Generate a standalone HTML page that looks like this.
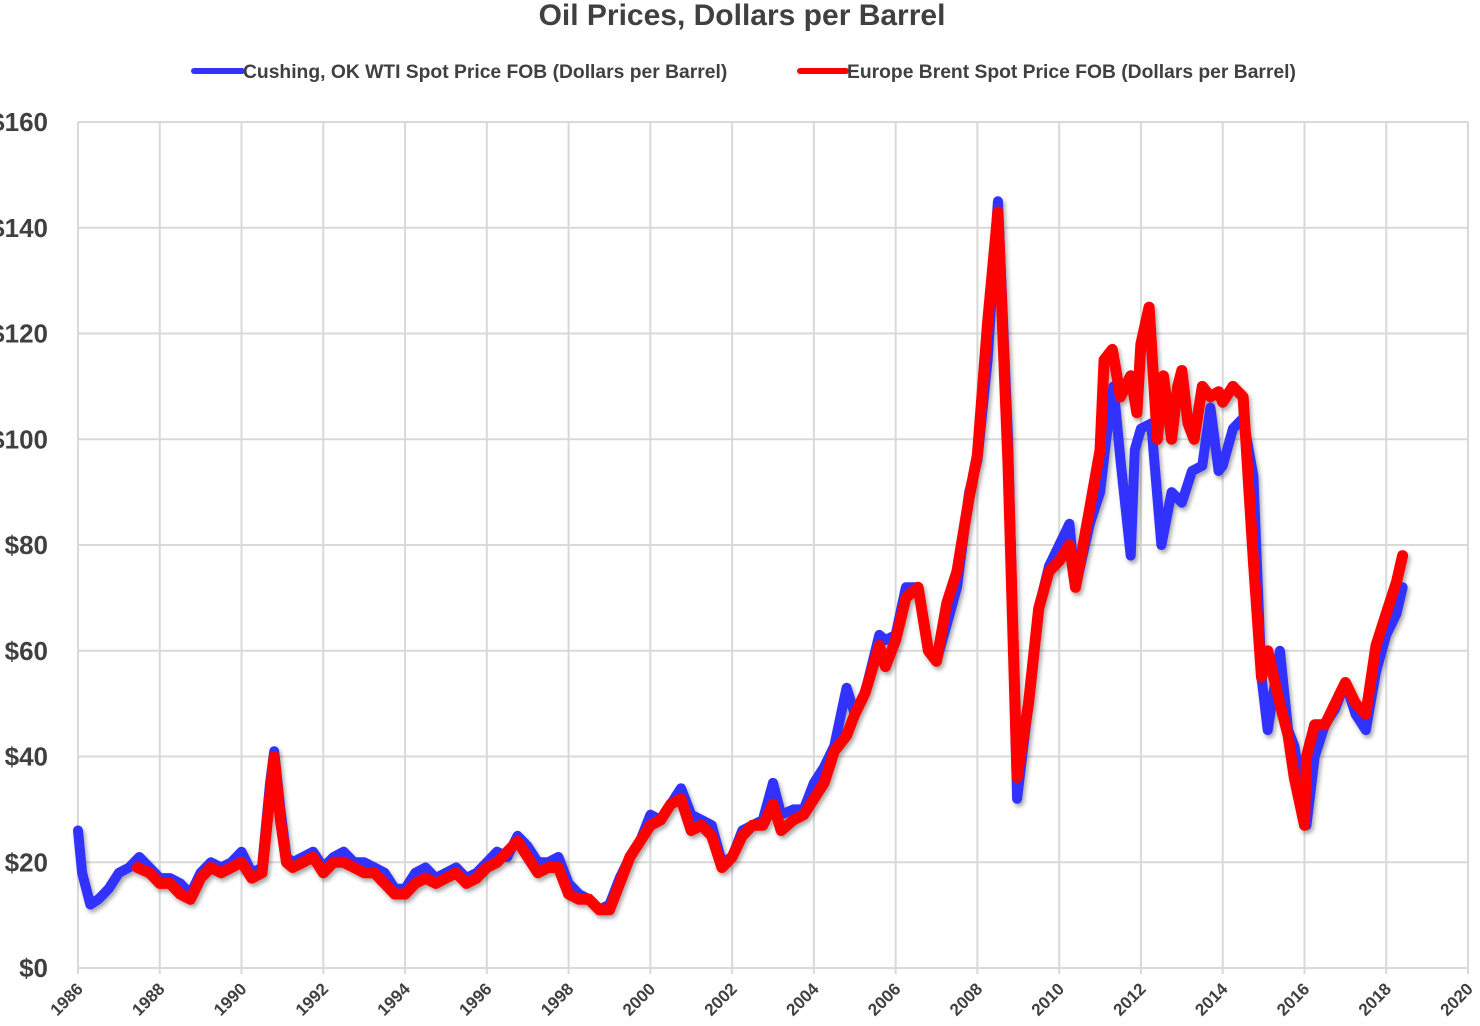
<!DOCTYPE html>
<html><head><meta charset="utf-8"><style>
html,body{margin:0;padding:0;background:#fff;width:1480px;height:1026px;overflow:hidden}
svg{display:block}
text{font-family:"Liberation Sans",sans-serif;fill:#404040;font-weight:bold}
</style></head><body>
<svg id="chart" width="1480" height="1026">
<defs><filter id="sh" x="-5%" y="-5%" width="110%" height="110%"><feDropShadow dx="2" dy="3" stdDeviation="2" flood-color="#000" flood-opacity="0.35"/></filter></defs>
<text x="742" y="25" text-anchor="middle" font-size="30">Oil Prices, Dollars per Barrel</text>
<g>
<g><line x1="194" y1="71" x2="242" y2="71" stroke="#3333ff" stroke-width="6" stroke-linecap="round"/><text x="243" y="78" font-size="19.3">Cushing, OK WTI Spot Price FOB (Dollars per Barrel)</text></g>
<g><line x1="800" y1="71" x2="846" y2="71" stroke="#ff0000" stroke-width="6" stroke-linecap="round"/><text x="847" y="78" font-size="19.3">Europe Brent Spot Price FOB (Dollars per Barrel)</text></g>
</g>
<g id="grid"></g>
<g id="ylab"></g>
<g id="xlab"></g>
<g id="series" filter="url(#sh)"></g>
</svg>
<script>
const yTicks=[0,20,40,60,80,100,120,140,160];
const yTickLabels=["$0","$20","$40","$60","$80","$100","$120","$140","$160"];
const xTicks=[1986,1988,1990,1992,1994,1996,1998,2000,2002,2004,2006,2008,2010,2012,2014,2016,2018,2020];
const wtiYears=[1986,1986.1,1986.3,1986.5,1986.75,1987,1987.25,1987.5,1987.75,1988,1988.25,1988.5,1988.75,1989,1989.25,1989.5,1989.75,1990,1990.25,1990.5,1990.7,1990.8,1990.95,1991.1,1991.25,1991.5,1991.75,1992,1992.25,1992.5,1992.75,1993,1993.25,1993.5,1993.75,1994,1994.25,1994.5,1994.75,1995,1995.25,1995.5,1995.75,1996,1996.25,1996.5,1996.75,1997,1997.25,1997.5,1997.75,1998,1998.25,1998.5,1998.75,1999,1999.25,1999.5,1999.75,2000,2000.25,2000.5,2000.75,2001,2001.25,2001.5,2001.75,2002,2002.25,2002.5,2002.75,2003,2003.2,2003.5,2003.75,2004,2004.25,2004.5,2004.8,2005,2005.25,2005.6,2005.75,2006,2006.25,2006.55,2006.8,2007,2007.25,2007.5,2007.8,2008,2008.25,2008.5,2008.75,2008.97,2009.25,2009.5,2009.75,2010,2010.25,2010.4,2010.75,2011,2011.15,2011.33,2011.5,2011.75,2011.85,2012,2012.25,2012.5,2012.75,2013,2013.25,2013.5,2013.7,2013.9,2014,2014.25,2014.5,2014.75,2014.95,2015.1,2015.4,2015.6,2015.75,2016,2016.05,2016.25,2016.5,2016.75,2017,2017.25,2017.5,2017.75,2018,2018.25,2018.4];
const wtiPrices=[26,18,12,13,15,18,19,21,19,17,17,16,14,18,20,19,20,22,18,19,35,41,30,21,20,21,22,19,21,22,20,20,19,18,15,15,18,19,17,18,19,17,18,20,22,21,25,23,20,20,21,16,14,13,11,12,17,21,24,29,28,31,34,29,28,27,20,21,26,27,28,35,29,30,30,35,38,42,53,48,52,63,62,63,72,72,60,58,65,72,90,96,115,145,100,32,50,68,76,80,84,72,84,90,100,110,96,78,98,102,103,80,90,88,94,95,106,94,95,102,104,93,55,45,60,45,42,30,27,40,46,49,54,48,45,56,63,67,72];
const brentYears=[1987.45,1987.75,1988,1988.25,1988.5,1988.75,1989,1989.25,1989.5,1989.75,1990,1990.25,1990.5,1990.7,1990.8,1990.95,1991.1,1991.25,1991.5,1991.75,1992,1992.25,1992.5,1992.75,1993,1993.25,1993.5,1993.75,1994,1994.25,1994.5,1994.75,1995,1995.25,1995.5,1995.75,1996,1996.25,1996.5,1996.75,1997,1997.25,1997.5,1997.75,1998,1998.25,1998.5,1998.75,1999,1999.25,1999.5,1999.75,2000,2000.25,2000.5,2000.75,2001,2001.25,2001.5,2001.75,2002,2002.25,2002.5,2002.75,2003,2003.2,2003.5,2003.75,2004,2004.25,2004.5,2004.8,2005,2005.25,2005.6,2005.75,2006,2006.25,2006.55,2006.8,2007,2007.25,2007.5,2007.8,2008,2008.25,2008.5,2008.75,2008.97,2009.25,2009.5,2009.75,2010,2010.25,2010.4,2010.75,2011,2011.1,2011.3,2011.5,2011.75,2011.9,2012,2012.2,2012.4,2012.55,2012.75,2012.9,2013,2013.15,2013.3,2013.5,2013.7,2013.9,2014,2014.25,2014.5,2014.75,2014.95,2015.1,2015.4,2015.6,2015.75,2016,2016.05,2016.25,2016.5,2016.75,2017,2017.25,2017.5,2017.75,2018,2018.25,2018.4];
const brentPrices=[19,18,16,16,14,13,17,19,18,19,20,17,18,33,40,28,20,19,20,21,18,20,20,19,18,18,16,14,14,16,17,16,17,18,16,17,19,20,22,24,21,18,19,19,14,13,13,11,11,16,21,24,27,28,31,32,26,27,25,19,21,25,27,27,31,26,28,29,32,35,41,44,48,52,61,57,62,70,72,60,58,69,75,89,97,122,143,95,36,50,68,75,77,80,72,87,98,115,117,108,112,105,118,125,100,112,100,110,113,103,100,110,108,109,107,110,108,77,55,60,50,44,36,27,40,46,46,50,54,50,48,61,67,73,78];
const X0=78,X1=1468,Y0=968,Y1=122;
const xs=y=>X0+(y-1986)/(2020-1986)*(X1-X0);
const ys=v=>Y0-v/160*(Y0-Y1);
const NS="http://www.w3.org/2000/svg";
const grid=document.getElementById('grid'),ylab=document.getElementById('ylab'),xlab=document.getElementById('xlab'),series=document.getElementById('series');
function mk(t,a){const e=document.createElementNS(NS,t);for(const k in a)e.setAttribute(k,a[k]);return e;}
yTicks.forEach((v,i)=>{
  const l=mk('line',{x1:X0,x2:X1,y1:ys(v),y2:ys(v),stroke:'#d9d9d9','stroke-width':2});
  
  
  grid.appendChild(l);
  const t=mk('text',{x:48,y:ys(v)+9,'text-anchor':'end','font-size':26});
  t.textContent=yTickLabels[i];
  
  
  ylab.appendChild(t);
});
xTicks.forEach(yr=>{
  const x=xs(yr);
  const l=mk('line',{x1:x,x2:x,y1:Y1,y2:Y0+6,stroke:'#d9d9d9','stroke-width':2});
  
  
  grid.appendChild(l);
  const t=mk('text',{x:x+6,y:Y0+22,'text-anchor':'end','font-size':17,transform:`rotate(-45 ${x+6} ${Y0+22})`});
  t.textContent=String(yr);
  
  
  xlab.appendChild(t);
});
function path(yrs,vals,color,w,name){
  const d=yrs.map((y,i)=>(i?'L':'M')+xs(y).toFixed(1)+' '+ys(vals[i]).toFixed(1)).join(' ');
  const p=mk('path',{d:d,fill:'none',stroke:color,'stroke-width':w,'stroke-linejoin':'round','stroke-linecap':'round'});
  
  
  series.appendChild(p);
}
path(wtiYears,wtiPrices,'#3333ff',10,'wti-line');
path(brentYears,brentPrices,'#ff0000',11,'brent-line');
</script>
</body></html>
